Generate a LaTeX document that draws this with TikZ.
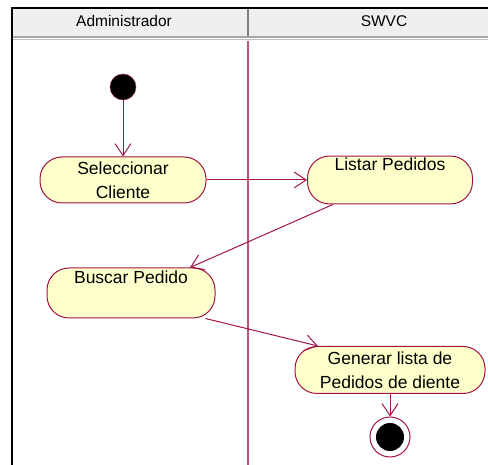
\documentclass[tikz,border=0pt]{standalone}
\usepackage{fontspec}
\setmainfont{Liberation Sans}
\usetikzlibrary{arrows.meta}
\definecolor{linea}{RGB}{160,20,70}
\definecolor{carril}{RGB}{190,80,120}
\definecolor{actividad}{RGB}{255,255,204}
\definecolor{cabecera}{RGB}{239,239,239}

\begin{document}
\begin{tikzpicture}[x=1pt,y=-1pt,
	act/.style={draw=linea,fill=actividad,line width=1pt,rounded corners=22pt,minimum height=46pt,inner sep=2pt,align=center,font=\fontsize{17.5}{24}\selectfont},
	flujo/.style={draw=linea,line width=1pt,-{Straight Barb[length=12pt,width=16pt]}}]
			\useasboundingbox (0,0) rectangle (488,465);
			% swimlanes
			\fill[cabecera] (12,8) rectangle (488,36);
			\draw[gray!70,line width=2pt] (12,37) -- (488,37);
			\draw[gray!50,line width=1pt] (12,40) -- (488,40);
			\draw[gray,line width=1.2pt] (248,8) -- (248,36);
			\draw[carril,line width=1.5pt] (248,41) -- (248,465);
			\draw[line width=2pt] (12,465) -- (12,8) -- (488,8);
			\node[font=\fontsize{15.5}{18}\selectfont] (admin) at (124,21) {Administrador};
			\node[font=\fontsize{15.5}{18}\selectfont] (swvc) at (384,21) {SWVC};
			
			\node[shape=circle,draw=linea,fill=black,inner sep=0pt,minimum size=26pt] (inicio) at (123,87) {};
			\node[act,minimum width=166pt] (selec) at (123,180) {Seleccionar\\Cliente};
			\node[act,minimum width=165pt] (listar) at (390,180) {Listar Pedidos\\\strut};
			\node[act,minimum width=168pt,minimum height=50pt] (buscar) at (131,293) {Buscar Pedido\\\strut};
			\node[act,minimum width=190pt,minimum height=47pt] (generar) at (390,370) {Generar lista de\\Pedidos de diente};
			\node[shape=circle,draw=linea,fill=white,line width=1pt,inner sep=0pt,minimum size=40pt] (fin) at (390,437) {};
			\fill[black] (fin.center) circle (14pt);
			
			\path (inicio) edge[flujo] (selec);
			\path (selec) edge[flujo] (listar);
			\path ([xshift=-57pt]listar.south) edge[flujo] ([xshift=59pt]buscar.north);
			\path ([xshift=-10pt]buscar.south east) edge[flujo] ([xshift=-72pt]generar.north);
			\path (generar) edge[flujo] (fin);

		\end{tikzpicture}
\end{document}
